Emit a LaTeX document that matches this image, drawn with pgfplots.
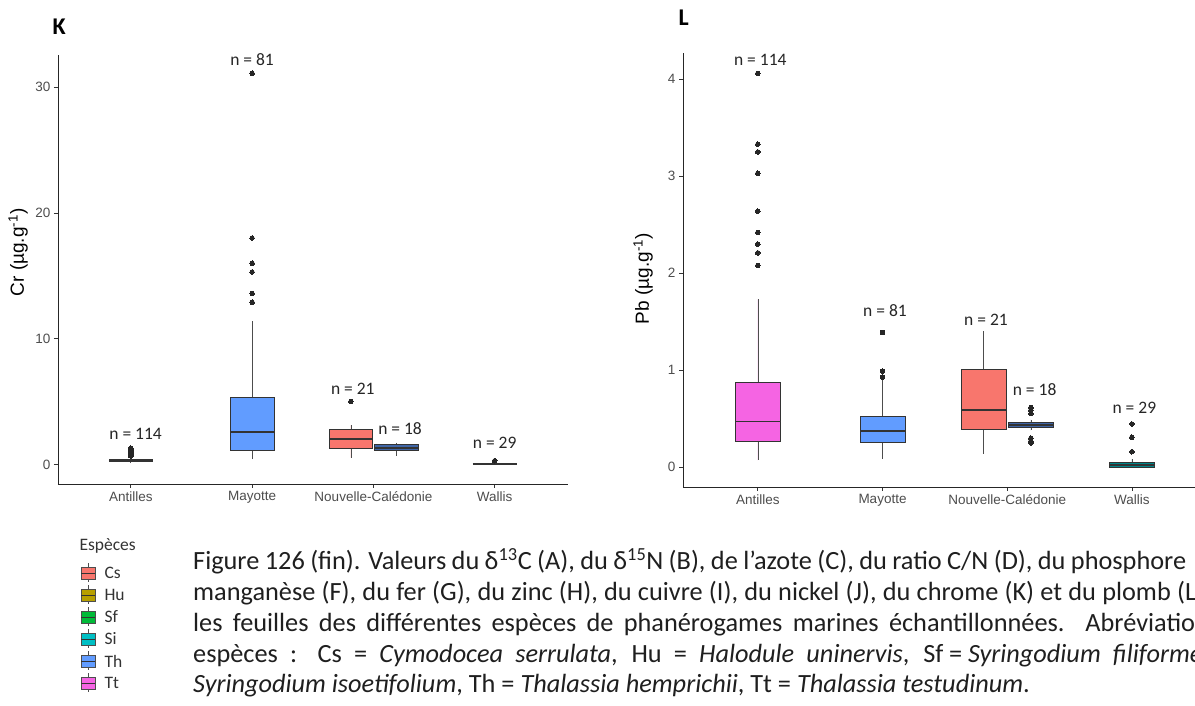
\documentclass[border=0pt]{standalone}
\usepackage{pgfplots}
\pgfplotsset{compat=1.18}
\usepgfplotslibrary{statistics}
\usepackage{fontspec}
\setmainfont{Carlito}
\newfontfamily\arial{Liberation Sans}
\definecolor{cCs}{HTML}{F8766D}
\definecolor{cHu}{HTML}{B79F00}
\definecolor{cSf}{HTML}{00BA38}
\definecolor{cSi}{HTML}{00BFC4}
\definecolor{cTh}{HTML}{619CFF}
\definecolor{cTt}{HTML}{F564E3}
\definecolor{gray20}{HTML}{333333}
\definecolor{gray30}{HTML}{4D4D4D}
\tikzset{nlab/.style={font=\fontsize{17.5}{20}\selectfont, text=black!85}}
\pgfplotsset{
  ggbox/.style={
    scale only axis,
    axis lines=left,
    axis line style={-, black!85, line width=0.8pt},
    xmin=0.4, xmax=4.6,
    xtick={1,2,3,4},
    xticklabels={Antilles,Mayotte,Nouvelle-Calédonie,Wallis},
    tick align=outside,
    major tick length=4pt,
    tick style={gray20, line width=0.7pt},
    tick label style={font=\arial\fontsize{13.5}{15}\selectfont, text=gray30},
    /pgf/number format/assume math mode=true,
    ylabel style={font=\arial\fontsize{19}{21}\selectfont, anchor=center, rotate=0},
    clip=false,
    boxplot/draw direction=y,
  },
  bx/.style={boxplot prepared={#1, box extend=0.36, whisker extend=0},
    draw=gray20, line width=0.7pt, solid, mark=*, mark size=2.3pt,
    mark options={fill=black!85, draw=black!85, line width=0pt},
    boxplot/every median/.style={line width=1.8pt, draw=black!80},
    boxplot/every whisker/.style={line width=0.6pt, draw=gray30}},
}
\begin{document}
\begin{tikzpicture}[x=1pt,y=1pt]
\useasboundingbox (0,0) rectangle (1195,706);
\clip (0,0) rectangle (1195,706);
\fill[white] (0,0) rectangle (1195,706);
% ---------- Panel K ----------
\begin{axis}[ggbox, at={(58pt,222pt)}, anchor=south west,
  width=509.5pt, height=429pt,
  ymin=-1.55, ymax=32.55, ytick={0,10,20,30},
  ylabel={Cr (µg.g\textsuperscript{-1})},
  ylabel style={at={(axis description cs:-0.078,0.54)}}]
\addplot[bx={lower whisker=0.08, lower quartile=0.22, median=0.3, upper quartile=0.4, upper whisker=0.6, draw position=1}, fill=cTt]
  table[row sep=\\, y index=0] {v\\ 0.68\\ 0.76\\ 0.84\\ 0.92\\ 1.0\\ 1.08\\ 1.16\\ 1.24\\ 1.3\\};
\addplot[bx={lower whisker=0.4, lower quartile=1.12, median=2.61, upper quartile=5.34, upper whisker=11.4, draw position=2}, fill=cTh]
  table[row sep=\\, y index=0] {v\\ 12.9\\ 13.6\\ 15.3\\ 16.0\\ 18.0\\ 31.1\\};
\addplot[bx={lower whisker=0.54, lower quartile=1.28, median=2.0, upper quartile=2.8, upper whisker=3.12, draw position=2.814}, fill=cCs]
  table[row sep=\\, y index=0] {v\\ 5.0\\};
\addplot[bx={lower whisker=0.7, lower quartile=1.12, median=1.34, upper quartile=1.58, upper whisker=1.74, draw position=3.19}, fill=cTh!65!black]
  coordinates {};
\addplot[bx={lower whisker=0.0, lower quartile=0.03, median=0.08, upper quartile=0.12, upper whisker=0.2, draw position=4}, fill=cSi!70!black]
  table[row sep=\\, y index=0] {v\\ 0.3\\};
\node[nlab] at (axis cs:1.04,2.4) {n = 114};
\node[nlab] at (axis cs:2,32.2) {n = 81};
\node[nlab] at (axis cs:2.83,6.0) {n = 21};
\node[nlab] at (axis cs:3.22,2.85) {n = 18};
\node[nlab] at (axis cs:4,1.75) {n = 29};
\end{axis}
% ---------- Panel L ----------
\begin{axis}[ggbox, at={(683pt,219pt)}, anchor=south west,
  width=523.7pt, height=434pt,
  ymin=-0.2035, ymax=4.27, ytick={0,1,2,3,4},
  ylabel={Pb (µg.g\textsuperscript{-1})},
  ylabel style={at={(axis description cs:-0.076,0.48)}}]
\addplot[bx={lower whisker=0.072, lower quartile=0.265, median=0.471, upper quartile=0.873, upper whisker=1.73, draw position=1}, fill=cTt]
  table[row sep=\\, y index=0] {v\\ 2.08\\ 2.21\\ 2.30\\ 2.42\\ 2.64\\ 3.03\\ 3.25\\ 3.33\\ 4.06\\};
\addplot[bx={lower whisker=0.09, lower quartile=0.257, median=0.371, upper quartile=0.526, upper whisker=0.9, draw position=2}, fill=cTh]
  table[row sep=\\, y index=0] {v\\ 0.93\\ 0.99\\ 1.39\\};
\addplot[bx={lower whisker=0.14, lower quartile=0.395, median=0.588, upper quartile=1.01, upper whisker=1.40, draw position=2.81}, fill=cCs]
  coordinates {};
\addplot[bx={lower whisker=0.38, lower quartile=0.41, median=0.436, upper quartile=0.46, upper whisker=0.49, draw position=3.19}, fill=cTh!65!black]
  table[row sep=\\, y index=0] {v\\ 0.25\\ 0.27\\ 0.30\\ 0.553\\ 0.588\\ 0.615\\};
\addplot[bx={lower whisker=0.0, lower quartile=0.0, median=0.02, upper quartile=0.048, upper whisker=0.08, draw position=4}, fill=cSi!70!black]
  table[row sep=\\, y index=0] {v\\ 0.16\\ 0.31\\ 0.446\\};
\node[nlab] at (axis cs:1.02,4.2) {n = 114};
\node[nlab] at (axis cs:2.02,1.61) {n = 81};
\node[nlab] at (axis cs:2.83,1.52) {n = 21};
\node[nlab] at (axis cs:3.22,0.80) {n = 18};
\node[nlab] at (axis cs:4.02,0.61) {n = 29};
\end{axis}
% ---------- panel letters ----------
\node[anchor=base west, font=\bfseries\fontsize{24}{28}\selectfont] at (49,671) {K};
\node[anchor=base west, font=\bfseries\fontsize{24}{28}\selectfont] at (675,680) {L};
% ---------- legend ----------
\node[anchor=base west, font=\fontsize{17.5}{20}\selectfont, text=gray20] at (76,155) {Espèces};
\foreach \c/\t [count=\i from 0] in {cCs/Cs,cHu/Hu,cSf/Sf,cSi/Si,cTh/Th,cTt/Tt}{
  \pgfmathsetmacro{\yc}{706-573-22*\i}
  \draw[gray30, line width=0.6pt] (88,\yc+6) -- (88,\yc+9.5) (88,\yc-6) -- (88,\yc-9.5);
  \filldraw[fill=\c, draw=gray30, line width=0.6pt] (81,\yc-6) rectangle (95,\yc+6);
  \draw[gray20, line width=0.8pt] (81,\yc) -- (95,\yc);
  \node[anchor=west, font=\fontsize{17.5}{20}\selectfont, text=gray20] at (101,\yc) {\t};
}
% ---------- caption ----------
\begin{scope}[every node/.style={anchor=base west, inner sep=0pt, font=\fontsize{26.3}{31}\selectfont, text=black!88}]
\node at (193,136) {\makebox[993pt][s]{Figure 126 (fin). Valeurs du δ\textsuperscript{13}C (A), du δ\textsuperscript{15}N (B), de l’azote (C), du ratio C/N (D), du phosphore}};
\node at (193,105) {\makebox[1011pt][s]{manganèse (F), du fer (G), du zinc (H), du cuivre (I), du nickel (J), du chrome (K) et du plomb (L)}};
\node at (193,74) {\makebox[1026pt][s]{les feuilles des différentes espèces de phanérogames marines échantillonnées. Abréviations}};
\node at (193,43) {\makebox[1016pt][s]{espèces : Cs = \textit{Cymodocea serrulata}, Hu = \textit{Halodule uninervis}, Sf\kern0.22em=\kern0.22em\textit{Syringodium filiforme},}};
\node at (193,13) {\textit{Syringodium isoetifolium}, Th = \textit{Thalassia hemprichii}, Tt = \textit{Thalassia testudinum}.};
\end{scope}
\end{tikzpicture}
\end{document}
